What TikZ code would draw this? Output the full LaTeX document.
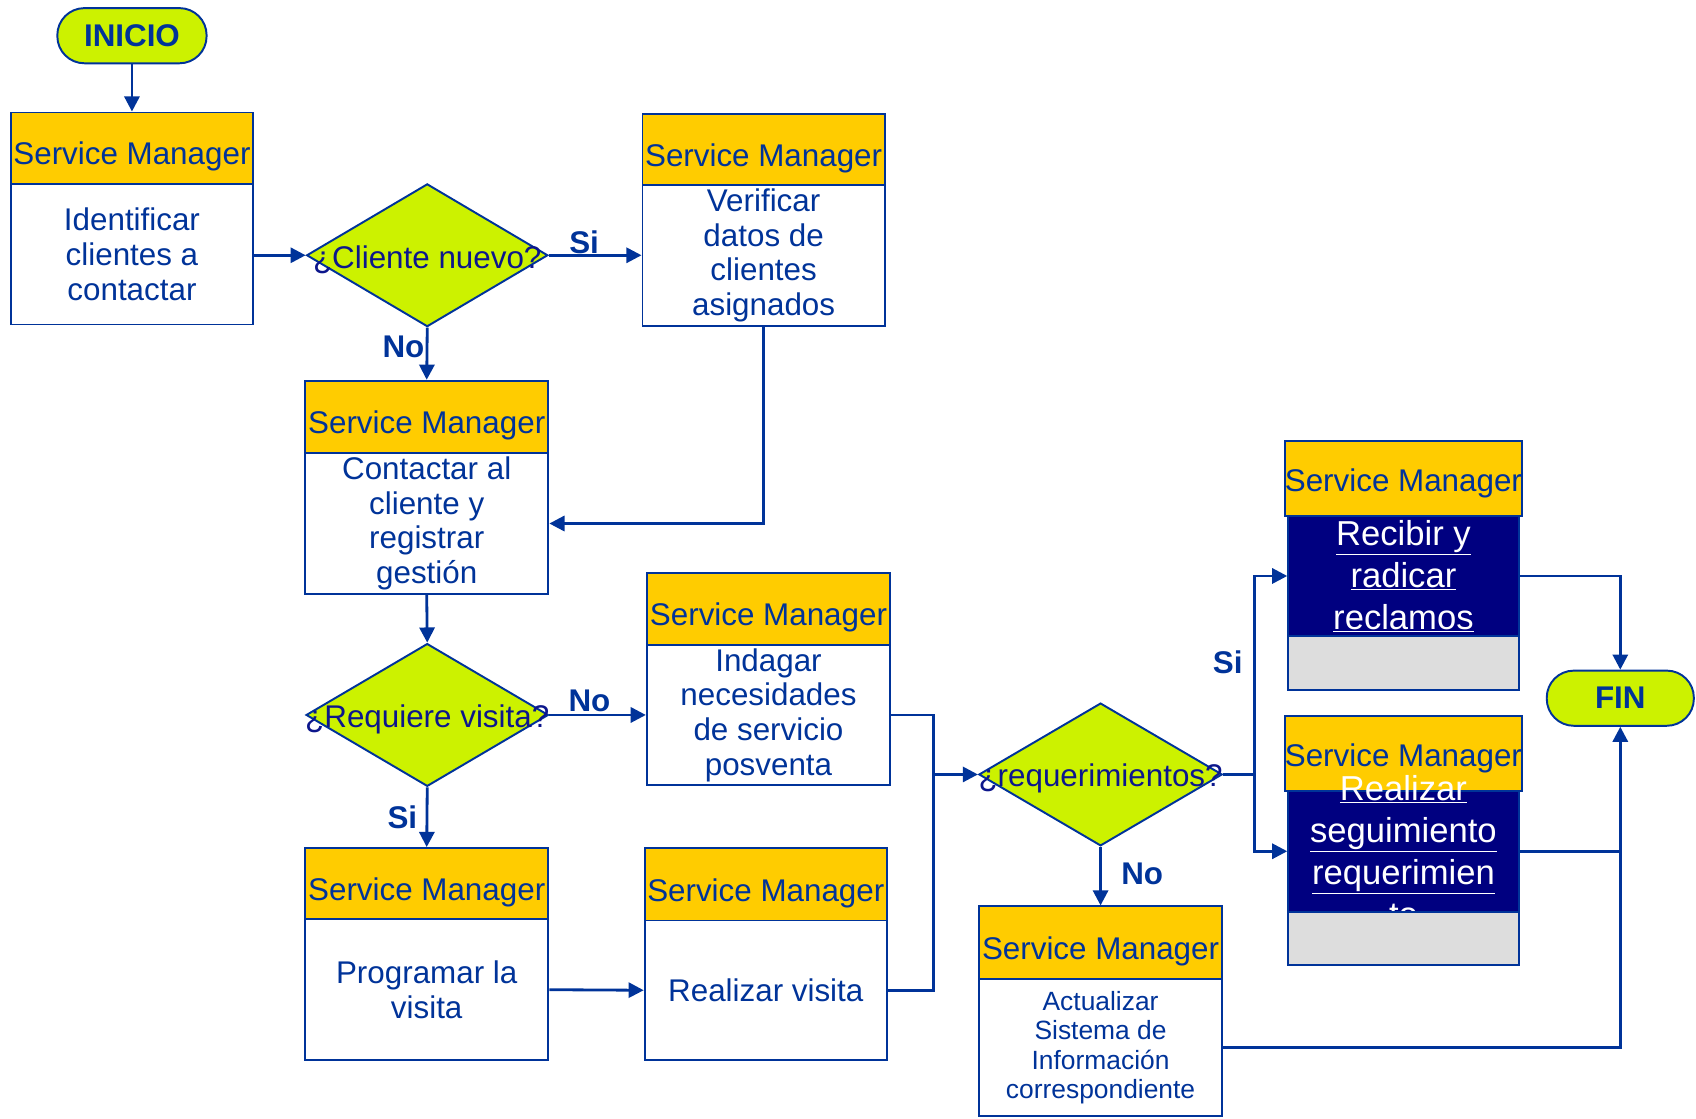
\documentclass[tikz,border=0pt]{standalone}
\usepackage{fontspec}
\setmainfont{Liberation Sans}
\usetikzlibrary{arrows.meta,shapes.geometric}
\definecolor{flowblue}{RGB}{0,51,153}
\definecolor{qnavy}{RGB}{12,22,140}
\definecolor{hdryellow}{RGB}{255,204,0}
\definecolor{limefill}{RGB}{204,242,0}
\definecolor{darknavy}{RGB}{0,0,128}
\definecolor{panelgrey}{RGB}{221,221,221}

\begin{document}
\begin{tikzpicture}[x=1pt,y=-1pt,
  every node/.style={font=\fontsize{29}{32}\selectfont, text=flowblue},
  hdr/.style={draw=flowblue, line width=1.8pt, fill=hdryellow, inner sep=0pt,
    minimum width=224pt, minimum height=66pt, text height=31pt, text depth=0pt},
  body/.style={draw=flowblue, line width=1.8pt, fill=white, inner sep=0pt,
    minimum width=224pt, minimum height=130pt, align=center},
  navybody/.style={draw=flowblue, line width=1.8pt, fill=darknavy, inner sep=0pt,
    minimum width=213pt},
  greypanel/.style={draw=flowblue, line width=1.8pt, fill=panelgrey, inner sep=0pt,
    minimum width=213pt, minimum height=50pt},
  wtext/.style={text=white, inner sep=0pt, align=center,
    font=\fontsize{32}{39}\selectfont},
  decision/.style={diamond, draw=flowblue, line width=1.8pt, fill=limefill,
    minimum width=223pt, minimum height=132pt, inner sep=0pt},
  qtext/.style={text=qnavy, inner sep=0pt, yshift=-4pt},
  term/.style={draw=flowblue, line width=1.8pt, fill=limefill, rounded corners=25pt,
    minimum width=138pt, minimum height=51pt, inner sep=0pt,
    font=\bfseries\fontsize{29}{32}\selectfont},
  lbl/.style={inner sep=0pt, font=\bfseries\fontsize{29}{32}\selectfont},
  conn/.style={draw=flowblue, line width=2.6pt},
  arr/.style={conn, -{Triangle[length=14pt,width=14pt]}}
]
\useasboundingbox (0,0) rectangle (1568,1034);

% start / end terminals
\node[term] (ini) at (122,33) {INICIO};
\node[term, minimum width=136pt] (fin) at (1498,645.5) {FIN};

% column 1
\node[hdr] (h1) at (122,137) {Service Manager};
\node[body] (b1) at (122,235) {Identificar\\clientes a\\contactar};

% decisions
\node[decision] (d1) at (395,236) {};
\node[decision, minimum width=224pt] (d2) at (395,661) {};
\node[decision, minimum width=225pt] (d3) at (1017.5,716) {};

% verification box
\node[hdr] (h2) at (706,138) {Service Manager};
\node[body] (b2) at (706,236) {Verificar\\datos de\\clientes\\asignados};

% contact box
\node[hdr, minimum width=225pt, minimum height=67pt] (h3) at (394.5,385.5) {Service Manager};
\node[body, minimum width=225pt] (b3) at (394.5,484) {Contactar al\\cliente y\\registrar\\gestión};

% inquiry box
\node[hdr, minimum width=225pt] (h4) at (710.5,563) {Service Manager};
\node[body, minimum width=225pt] (b4) at (710.5,661) {Indagar\\necesidades\\de servicio\\posventa};

% visit boxes
\node[hdr, minimum width=225pt] (h5) at (394.5,817) {Service Manager};
\node[body, minimum width=225pt] (b5) at (394.5,915) {Programar la\\visita};
\node[hdr, minimum height=67pt] (h6) at (708,817.5) {Service Manager};
\node[body, minimum height=129pt] (b6) at (708,915.5) {Realizar visita};

% information system update
\node[hdr, minimum width=225pt, minimum height=67pt] (h9) at (1017.5,871.5) {Service Manager};
\node[body, minimum width=225pt, minimum height=127pt,
      font=\fontsize{24.4}{27}\selectfont] (b9) at (1017.5,968.5)
      {Actualizar\\Sistema de\\Información\\correspondiente};

% claims box
\node[hdr, minimum width=213pt, minimum height=69pt, text height=24pt] (h7) at (1297.5,442.5) {Service Manager};
\node[navybody, minimum height=111pt] (b7) at (1297.5,532.5) {};
\node[wtext] (t7) at (b7.center) {\underline{Recibir y}\\\underline{radicar}\\\underline{reclamos}};
\node[greypanel] (g7) at (1297.5,613) {};

% follow-up box
\node[hdr, minimum width=213pt, minimum height=69pt, text height=24pt] (h8) at (1297.5,696.5) {Service Manager};
\node[navybody, minimum height=112pt] (b8) at (1297.5,787) {};
\node[wtext] (t8) at (1297.5,788) {\underline{Realizar}\\\underline{seguimiento}\\\underline{requerimien}\\\underline{to}};
\node[greypanel, minimum height=49pt] (g8) at (1297.5,867.5) {};

% connectors
\draw[arr] (ini) -- (h1);
\draw[arr] (d1.west -| b1.east) -- (d1.west);
\draw[arr] (d1.east) -- (b2.west);
\draw[arr] (d1.south) -- (h3.north);
\draw[arr] (b2.south) |- (b3.east);
\draw[arr] (b3.south) -- (d2.north);
\draw[arr] (d2.east) -- (b4.west);
\draw[arr] (d2.south) -- (h5.north);
\draw[arr] (b5.east) -- (b6.west);
\coordinate (j1) at (863,716);
\draw[conn] (b4.east) -| (j1);
\draw[conn] (b6.east) -| (j1);
\draw[arr] (j1) -- (d3.west);
\coordinate (j2) at (1160,716);
\draw[conn] (d3.east) -- (j2);
\draw[arr] (j2) |- (b7.west);
\draw[arr] (j2) |- (b8.west);
\draw[arr] (d3.south) -- (h9.north);
\draw[arr] (b7.east) -| (fin.north);
\draw[conn] (b8.east) -- (b8.east -| fin.south);
\draw[arr] (b9.east) -| (fin.south);

% decision questions
\node[qtext] (q1) at (d1.center) {¿Cliente nuevo?};
\node[qtext] (q2) at (d2.center) {¿Requiere visita?};
\node[qtext] (q3) at (d3.center) {¿requerimientos?};

% branch labels
\node[lbl] (l1) at (540,224) {Si};
\node[lbl] (l2) at (373,321) {No};
\node[lbl] (l3) at (545,648) {No};
\node[lbl] (l4) at (372,756) {Si};
\node[lbl] (l5) at (1135,612) {Si};
\node[lbl] (l6) at (1056,808) {No};
\end{tikzpicture}
\end{document}
